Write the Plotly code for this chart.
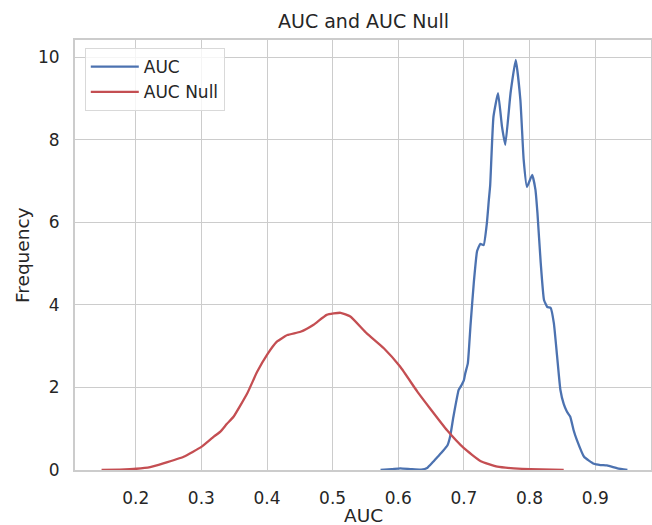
import plotly.graph_objects as go

# KDE curve of AUC
auc_x = [0.573, 0.590, 0.603, 0.620, 0.635, 0.644, 0.652, 0.660, 0.668, 0.675, 0.679, 0.684,
         0.692, 0.695, 0.700, 0.702, 0.706, 0.710, 0.715, 0.720, 0.725, 0.730, 0.735, 0.738,
         0.740, 0.745, 0.752, 0.758, 0.763, 0.771, 0.779, 0.786, 0.791, 0.796, 0.804, 0.809,
         0.812, 0.817, 0.822, 0.827, 0.832, 0.837, 0.842, 0.847, 0.852, 0.857, 0.862, 0.867,
         0.872, 0.883, 0.898, 0.908, 0.918, 0.934, 0.949]
auc_y = [0.0, 0.02, 0.04, 0.02, 0.01, 0.05, 0.18, 0.32, 0.46, 0.60, 0.81, 1.29,
         1.94, 2.02, 2.18, 2.34, 2.59, 3.50, 4.53, 5.30, 5.48, 5.45, 5.99, 6.55,
         6.90, 8.56, 9.13, 8.32, 7.88, 9.13, 9.94, 8.97, 7.52, 6.86, 7.15, 6.79,
         6.23, 5.02, 4.12, 3.95, 3.93, 3.56, 2.75, 1.94, 1.60, 1.41, 1.29, 0.97,
         0.73, 0.32, 0.15, 0.12, 0.11, 0.04, 0.0]

# KDE curve of AUC Null
null_x = [0.148, 0.176, 0.201, 0.222, 0.242, 0.273, 0.300, 0.319, 0.329, 0.339, 0.349, 0.370,
          0.385, 0.400, 0.415, 0.431, 0.451, 0.471, 0.491, 0.512, 0.527, 0.552, 0.578, 0.603,
          0.629, 0.649, 0.674, 0.700, 0.725, 0.751, 0.776, 0.801, 0.852]
null_y = [0.0, 0.01, 0.03, 0.07, 0.16, 0.32, 0.56, 0.81, 0.93, 1.12, 1.29, 1.86,
          2.38, 2.79, 3.11, 3.27, 3.35, 3.52, 3.76, 3.81, 3.72, 3.31, 2.95, 2.50,
          1.90, 1.48, 0.97, 0.53, 0.22, 0.08, 0.04, 0.02, 0.0]

x_ticks = [0.2, 0.3, 0.4, 0.5, 0.6, 0.7, 0.8, 0.9]
x_tick_labels = ["0.2", "0.3", "0.4", "0.5", "0.6", "0.7", "0.8", "0.9"]
y_ticks = [0, 2, 4, 6, 8, 10]
y_tick_labels = ["0", "2", "4", "6", "8", "10"]

FONT = "DejaVu Sans"
W, H = 652, 525
ML, MR, MT, MB = 75, 1, 40, 55

fig = go.Figure()
fig.add_trace(go.Scatter(x=auc_x, y=auc_y, mode="lines", name="AUC",
                         line=dict(color="#4c72b0", width=2.3, shape="spline", smoothing=0.4)))
fig.add_trace(go.Scatter(x=null_x, y=null_y, mode="lines", name="AUC Null",
                         line=dict(color="#c44e52", width=2.3, shape="spline", smoothing=0.4)))

axis_common = dict(showgrid=True, gridcolor="#cccccc", gridwidth=1.4,
                   showline=True, linecolor="#cccccc", linewidth=1.8, mirror=True,
                   zeroline=False, ticks="", automargin=False,
                   tickfont=dict(family=FONT, size=17, color="#262626"))

fig.update_layout(
    width=W, height=H,
    margin=dict(l=ML, r=MR, t=MT, b=MB, autoexpand=False),
    paper_bgcolor="white", plot_bgcolor="white",
    font=dict(family=FONT, color="#262626"),
    xaxis=dict(range=[0.1075, 0.985], tickvals=x_ticks, ticktext=x_tick_labels,
               ticklabelstandoff=12, **axis_common),
    yaxis=dict(range=[0, 10.42], tickvals=y_ticks, ticktext=y_tick_labels,
               ticklabelstandoff=10, **axis_common),
    legend=dict(x=0.017, y=0.981, xanchor="left", yanchor="top",
                bgcolor="rgba(255,255,255,0.8)", bordercolor="#d9d9d9", borderwidth=1,
                font=dict(family=FONT, size=17, color="#262626"),
                itemwidth=48, tracegroupgap=0),
    showlegend=True,
    annotations=[
        dict(text="AUC and AUC Null", xref="paper", yref="paper",
             x=0.5, y=1, yshift=MT - 21, showarrow=False,
             font=dict(family=FONT, size=19, color="#262626"),
             xanchor="center", yanchor="middle"),
        dict(text="AUC", xref="paper", yref="paper", x=0.5, y=0,
             yshift=-(515 - (H - MB)), showarrow=False,
             font=dict(family=FONT, size=18.5, color="#262626"),
             xanchor="center", yanchor="middle"),
        dict(text="Frequency", xref="paper", yref="paper", x=0, y=0.5,
             xshift=-(ML - 22), showarrow=False, textangle=-90,
             font=dict(family=FONT, size=18.5, color="#262626"),
             xanchor="center", yanchor="middle"),
    ],
)

fig.write_html("out.html", config={"displayModeBar": False},
               post_script="document.body.style.margin='0';document.body.style.padding='0';")
